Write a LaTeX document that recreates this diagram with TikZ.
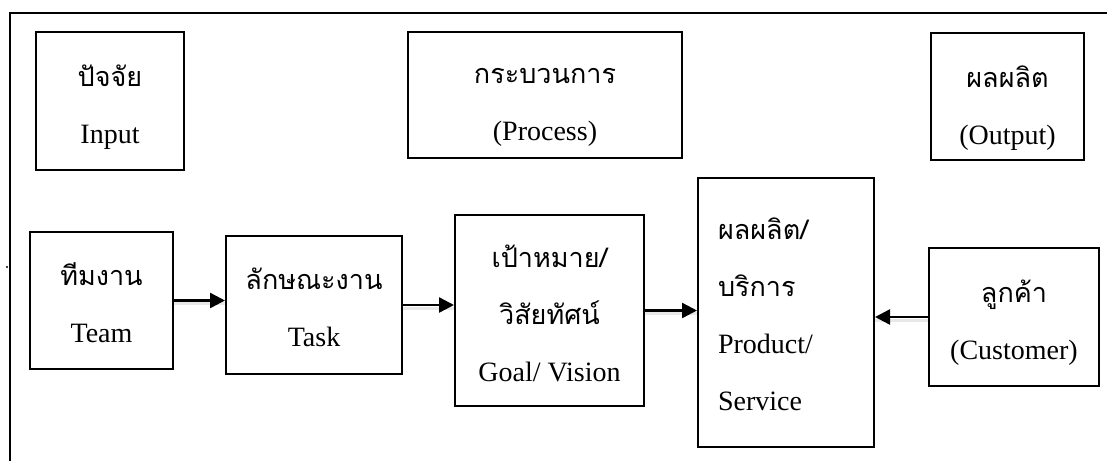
\documentclass[tikz,border=0pt]{standalone}
\usepackage{fontspec}
\setmainfont{Liberation Serif}
\newfontfamily\thaifont[Script=Thai]{Loma}
\usetikzlibrary{arrows.meta}

\tikzset{
  box/.style={draw, line width=1pt, inner sep=0pt, align=center,
    font=\fontsize{14}{28.5}\selectfont},
  arr/.style={line width=1.2pt, -{Triangle[length=7.5pt,width=7.5pt]}},
  shade/.style={line width=1.5pt, gray!18}
}
\newcommand{\tx}[1]{{\thaifont\fontsize{13.5}{28.5}\selectfont #1}}
\newcommand{\hi}[1]{\rule{0pt}{#1pt}}
\newcommand{\lo}{\rule[-4pt]{0pt}{4pt}}

\begin{document}
\begin{tikzpicture}[x=0.5pt,y=-0.5pt]
  \useasboundingbox (0,0) rectangle (1107,461);
  % frame
  \draw[line width=1pt] (10,461) -- (10,13) -- (1107,13);
  \fill (7,267) circle (1.2);

  % top row
  \node[box, minimum width=74pt, minimum height=69pt] (input) at (110,101)
    {\hi{17.8}\tx{ปัจจัย}\\Input\lo};
  \node[box, minimum width=137pt, minimum height=63pt] (process) at (545,95)
    {\hi{21.3}\tx{กระบวนการ}\\(Process)\lo};
  \node[box, minimum width=76.5pt, minimum height=63.5pt] (output) at (1007.5,96.5)
    {\hi{23.3}\tx{ผลผลิต}\\(Output)\lo};

  % bottom row
  \node[box, minimum width=71.5pt, minimum height=68.5pt] (team) at (101.5,300.5)
    {\hi{17.8}\tx{ทีมงาน}\\Team\lo};
  \node[box, minimum width=88pt, minimum height=69pt] (task) at (314,305)
    {\hi{17.3}\tx{ลักษณะงาน}\\Task\lo};
  \node[box, minimum width=94.5pt, minimum height=95.5pt] (goal) at (549.5,310.5)
    {\hi{18.3}\tx{เป้าหมาย/}\\\tx{วิสัยทัศน์}\\Goal/ Vision\lo};
  \node[box, align=left, text width=68pt, inner xsep=10pt,
    minimum width=88pt, minimum height=134.5pt] (product) at (786,312.5)
    {\hi{16.8}\tx{ผลผลิต/}\\\tx{บริการ}\\Product/\\Service\lo};
  \node[box, minimum width=85pt, minimum height=69pt] (customer) at (1014,317)
    {\hi{17.8}\tx{ลูกค้า}\\(Customer)\lo};

  % arrows
  \draw[shade] ([yshift=-1.5pt]team.east) -- ([yshift=-1.5pt]task.west |- team.east);
  \draw[arr] (team.east) -- (task.west |- team.east);
  \draw[shade] ([yshift=-1.5pt]task.east) -- ([yshift=-1.5pt]goal.west |- task.east);
  \draw[arr] (task.east) -- (goal.west |- task.east);
  \draw[shade] ([yshift=-1.5pt]goal.east) -- ([yshift=-1.5pt]product.west |- goal.east);
  \draw[arr] (goal.east) -- (product.west |- goal.east);
  \draw[shade] ([yshift=-1.5pt]customer.west) -- ([yshift=-1.5pt]product.east |- customer.west);
  \draw[arr] (customer.west) -- (product.east |- customer.west);
\end{tikzpicture}
\end{document}
